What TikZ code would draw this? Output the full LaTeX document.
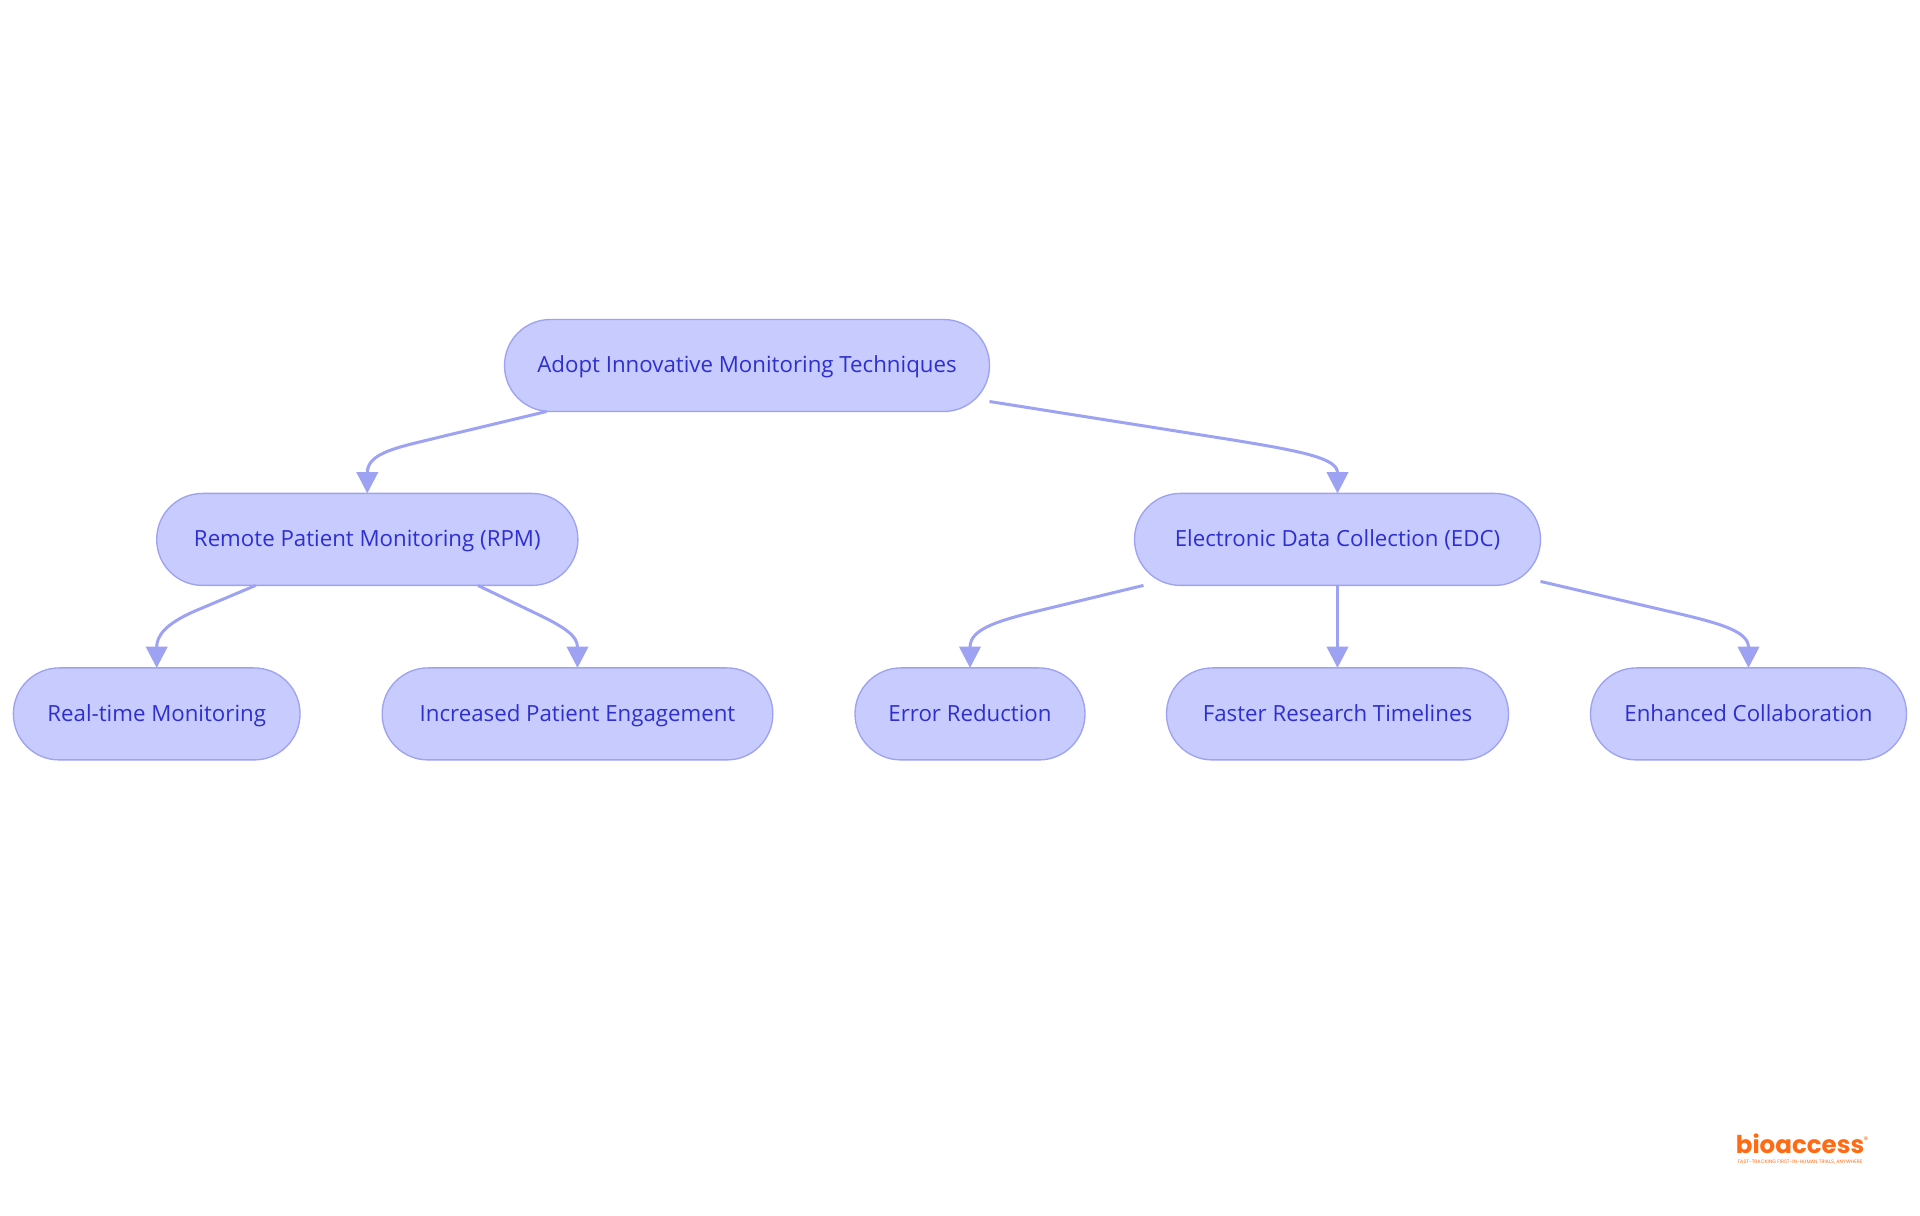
\documentclass[tikz,border=0pt]{standalone}
\usepackage{fontspec}
\setmainfont{Open Sans}
\newfontfamily\logofont{Poppins}
\usepackage{xcolor}
\usetikzlibrary{arrows.meta}
\usetikzlibrary{calc}
\definecolor{boxfill}{HTML}{C8CBFD}
\definecolor{boxline}{HTML}{9DA2F2}
\definecolor{boxtext}{HTML}{2D30CF}
\definecolor{logoorange}{HTML}{FF6A13}

\begin{document}
\begin{tikzpicture}[x=0.75pt, y=-0.75pt]

        \tikzstyle{stage} = [draw=boxline, fill=boxfill, text=boxtext, line width=1pt, rounded corners=34.4pt, minimum height=69pt, inner sep=0pt, outer sep=0pt, text height=12pt, text depth=1pt, font=\fontsize{16.7}{20}\selectfont]
        \tikzstyle{link} = [draw=boxline, line width=2.25pt, -{Triangle[width=16pt, length=16pt]}]

        \useasboundingbox (0,0) rectangle (1920,1215);

        % top row
        \node [stage, minimum width=363.75pt](root) at (747,365.5) {Adopt Innovative Monitoring Techniques};

        % middle row
        \node [stage, minimum width=315.9pt](rpm) at (367.3,539.4) {Remote Patient Monitoring (RPM)};
        \node [stage, minimum width=304.5pt](edc) at (1337.5,539.4) {Electronic Data Collection (EDC)};

        % bottom row
        \node [stage, minimum width=215pt](rt) at (156.7,713.9) {Real-time Monitoring};
        \node [stage, minimum width=293pt](inc) at (577.5,713.9) {Increased Patient Engagement};
        \node [stage, minimum width=172.5pt](err) at (970,713.9) {Error Reduction};
        \node [stage, minimum width=256.5pt](fast) at (1337.5,713.9) {Faster Research Timelines};
        \node [stage, minimum width=237pt](enh) at (1748.5,713.9) {Enhanced Collaboration};

        \draw [link] ($(root.south west)+(42,0)$) -- (440,437) .. controls (400,447) and (367.3,452) .. (rpm.north);
        \draw [link] ($(root.south east)+(0,-10)$) -- (1233,440) .. controls (1300,451) and (1337.5,458) .. (edc.north);

        \draw [link] ($(rpm.south west)+(99,0)$) -- (195,611) .. controls (165,624) and (156.7,636) .. (rt.north);
        \draw [link] ($(rpm.south east)+(-100,0)$) -- (533,612) .. controls (565,627) and (577.5,636) .. (inc.north);

        \draw [link] ($(edc.south west)+(9,0)$) -- (1050,608) .. controls (1000,620) and (970,628) .. (err.north);
        \draw [link] (edc.south) -- (fast.north);
        \draw [link] ($(edc.south east)+(0,-4)$) -- (1663,610) .. controls (1715,622) and (1748.5,630) .. (enh.north);

        % logo
        \node [text=logoorange, inner sep=0pt, font=\logofont\bfseries\fontsize{18.4}{20}\selectfont](logo) at (1800,1144) {bioaccess};
        \node [text=logoorange, inner sep=0pt, font=\logofont\fontsize{7}{8}\selectfont](mark) at (1866,1140) {®};
        \node [text=logoorange, inner sep=0pt, font=\logofont\fontsize{3.7}{4}\selectfont](tag) at (1800,1162) {FAST-TRACKING FIRST-IN-HUMAN TRIALS, ANYWHERE};
\end{tikzpicture}
\end{document}
